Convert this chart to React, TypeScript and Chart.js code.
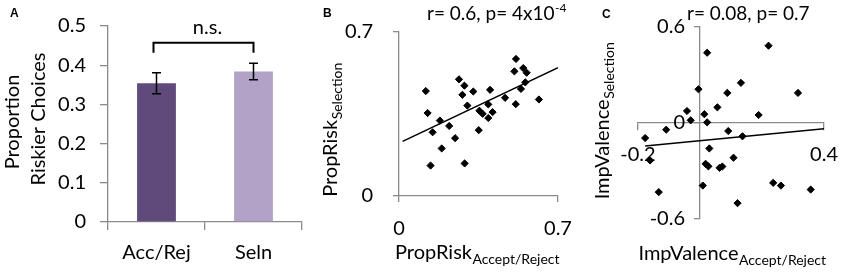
import React, { useEffect, useRef } from 'react';
import { Chart, registerables } from 'chart.js';

Chart.register(...registerables);

const W = 851;
const H = 275;
const FONT = 'Lato';
const AXIS_GRAY = '#8a8a8a';
const TEXT = '#000000';

// ---------- Panel A data ----------
const barCategories = ['Acc/Rej', 'Seln'];
const barMeans = [0.354, 0.384];
const barErrLow = [0.327, 0.363];
const barErrHigh = [0.381, 0.405];
const barColors = ['#5f4a7b', '#b3a2c8'];
const barYTicks = [0, 0.1, 0.2, 0.3, 0.4, 0.5];

// ---------- Panel B data ----------
const propRiskAccRej = [0.118, 0.126, 0.18, 0.148, 0.221, 0.188, 0.247, 0.139, 0.289, 0.264, 0.288, 0.279, 0.327, 0.301, 0.351, 0.354, 0.368, 0.393, 0.393, 0.401, 0.412, 0.467, 0.514, 0.515, 0.508, 0.537, 0.547, 0.556, 0.562, 0.616];
const propRiskSelection = [0.448, 0.354, 0.322, 0.272, 0.299, 0.203, 0.247, 0.13, 0.139, 0.498, 0.471, 0.432, 0.446, 0.386, 0.281, 0.364, 0.351, 0.333, 0.391, 0.453, 0.358, 0.419, 0.392, 0.585, 0.532, 0.457, 0.546, 0.485, 0.526, 0.412];
const propRiskFitX = [0.016, 0.7];
const propRiskFitY = [0.233, 0.548];
const propRiskTicks = [0, 0.7];

// ---------- Panel C data ----------
const impValAccRej = [0.023, 0.221, -0.005, 0.088, 0.132, 0.316, -0.042, 0.056, 0.014, -0.03, 0.023, 0.189, -0.109, -0.177, 0.091, 0.137, 0.03, -0.161, 0.018, 0.027, 0.063, 0.072, 0.108, -0.133, 0.009, 0.121, 0.236, 0.261, 0.357];
const impValSelection = [0.439, 0.483, 0.211, 0.188, 0.251, 0.188, 0.075, 0.098, 0.055, 0.017, 0.004, 0.05, -0.042, -0.094, -0.05, -0.083, -0.159, -0.234, -0.255, -0.271, -0.28, -0.272, -0.217, -0.432, -0.391, -0.501, -0.374, -0.391, -0.416];
const impValFitX = [-0.177, 0.4];
const impValFitY = [-0.144, -0.036];
const impValXTicks = [-0.2, 0.4];
const impValYTicks = [-0.6, 0, 0.6];

// ---------- helpers ----------
const fmt = (v: number) => (v === 0 ? '0' : String(Math.round(v * 10) / 10));

function setTicks(values: number[]) {
  return (scale: any) => {
    scale.ticks = values.map((v) => ({ value: v }));
  };
}

function drawSub(ctx: CanvasRenderingContext2D, main: string, sub: string, x: number, y: number, mainSize: number, subSize: number, drop: number) {
  ctx.font = `${mainSize}px ${FONT}`;
  const mw = ctx.measureText(main).width;
  ctx.font = `${subSize}px ${FONT}`;
  const sw = ctx.measureText(sub).width;
  const sx = x - (mw + sw) / 2;
  ctx.textAlign = 'left';
  ctx.textBaseline = 'alphabetic';
  ctx.fillStyle = TEXT;
  ctx.font = `${mainSize}px ${FONT}`;
  ctx.fillText(main, sx, y);
  ctx.font = `${subSize}px ${FONT}`;
  ctx.fillText(sub, sx + mw + 0.5, y + drop);
}

function drawRotated(ctx: CanvasRenderingContext2D, x: number, y: number, fn: () => void) {
  ctx.save();
  ctx.translate(x, y);
  ctx.rotate(-Math.PI / 2);
  fn();
  ctx.restore();
}

function letter(ctx: CanvasRenderingContext2D, t: string, x: number, y: number) {
  ctx.font = 'bold 12px "Liberation Sans", Arial, sans-serif';
  ctx.fillStyle = TEXT;
  ctx.textAlign = 'left';
  ctx.textBaseline = 'alphabetic';
  ctx.fillText(t, x, y);
}

const axisGrid = (tl: number) => ({
  display: true,
  drawOnChartArea: false,
  drawTicks: true,
  tickLength: tl,
  color: AXIS_GRAY,
  lineWidth: 1.3,
});
const axisBorder = { display: true, color: AXIS_GRAY, width: 1.3 };
const tickFont = { family: FONT, size: 20 };
const TITLE = 20;
const SUB = 14;

const basePlugins = { legend: { display: false }, tooltip: { enabled: false } };

// ---------- configs ----------
function configA(): any {
  const annot = {
    id: 'panelA',
    afterDraw(chart: any) {
      const ctx = chart.ctx as CanvasRenderingContext2D;
      const xs = chart.scales.x;
      const ys = chart.scales.y;
      ctx.save();
      // error bars
      ctx.strokeStyle = '#000';
      ctx.lineWidth = 1.5;
      barMeans.forEach((_, i) => {
        const x = xs.getPixelForValue(i);
        const y1 = ys.getPixelForValue(barErrLow[i]);
        const y2 = ys.getPixelForValue(barErrHigh[i]);
        ctx.beginPath();
        ctx.moveTo(x, y1);
        ctx.lineTo(x, y2);
        ctx.moveTo(x - 4.5, y1);
        ctx.lineTo(x + 4.5, y1);
        ctx.moveTo(x - 4.5, y2);
        ctx.lineTo(x + 4.5, y2);
        ctx.stroke();
      });
      // significance bracket
      const bx1 = xs.getPixelForValue(0) - 3;
      const bx2 = xs.getPixelForValue(1);
      const bTop = ys.getPixelForValue(0.457);
      const bLeg = ys.getPixelForValue(0.432);
      ctx.lineWidth = 2;
      ctx.beginPath();
      ctx.moveTo(bx1, bLeg);
      ctx.lineTo(bx1, bTop);
      ctx.lineTo(bx2, bTop);
      ctx.lineTo(bx2, bLeg);
      ctx.stroke();
      ctx.fillStyle = TEXT;
      ctx.font = `${TITLE}px ${FONT}`;
      ctx.textAlign = 'center';
      ctx.textBaseline = 'alphabetic';
      ctx.fillText('n.s.', (bx1 + bx2) / 2 + 4, bTop - 9);
      // y title
      drawRotated(ctx, 18.5, 122, () => {
        ctx.font = `${TITLE}px ${FONT}`;
        ctx.textAlign = 'center';
        ctx.fillText('Proportion', 0, 0);
      });
      drawRotated(ctx, 45, 119, () => {
        ctx.font = `${TITLE}px ${FONT}`;
        ctx.textAlign = 'center';
        ctx.fillText('Riskier Choices', 0, 0);
      });
      letter(ctx, 'A', 10, 17);
      ctx.restore();
    },
  };
  return {
    type: 'bar',
    data: {
      labels: barCategories,
      datasets: [
        {
          data: barMeans,
          backgroundColor: barColors,
          borderWidth: 0,
          barPercentage: 0.4,
          categoryPercentage: 1,
        },
      ],
    },
    options: {
      responsive: false,
      animation: false,
      devicePixelRatio: 1,
      layout: { padding: { left: 0, top: 14, right: 549, bottom: 0 } },
      plugins: basePlugins,
      scales: {
        x: {
          offset: true,
          grid: { ...axisGrid(8), offset: true },
          border: axisBorder,
          ticks: { color: TEXT, font: tickFont, padding: 11, maxRotation: 0 },
          afterFit: (s: any) => {
            s.height = 53;
          },
        },
        y: {
          min: 0,
          max: 0.5,
          grid: axisGrid(8),
          border: axisBorder,
          ticks: { color: TEXT, font: tickFont, padding: 14, callback: (v: any) => fmt(Number(v)) },
          afterBuildTicks: setTicks(barYTicks),
          afterFit: (s: any) => {
            s.width = 108;
          },
        },
      },
    },
    plugins: [annot],
  };
}

function configB(): any {
  const annot = {
    id: 'panelB',
    afterDraw(chart: any) {
      const ctx = chart.ctx as CanvasRenderingContext2D;
      ctx.save();
      letter(ctx, 'B', 323, 17);
      ctx.fillStyle = TEXT;
      ctx.textAlign = 'left';
      ctx.textBaseline = 'alphabetic';
      ctx.font = `19px ${FONT}`;
      const main = 'r= 0.6, p= 4x10';
      ctx.fillText(main, 427, 20);
      const mw = ctx.measureText(main).width;
      ctx.font = `12px ${FONT}`;
      ctx.fillText('-4', 427 + mw + 0.5, 12);
      drawRotated(ctx, 337, 130, () => drawSub(ctx, 'PropRisk', 'Selection', 0, 0, TITLE, SUB, 5));
      drawSub(ctx, 'PropRisk', 'Accept/Reject', 477, 259, TITLE, SUB, 5);
      ctx.restore();
    },
  };
  return {
    type: 'scatter',
    data: {
      datasets: [
        {
          type: 'scatter',
          data: propRiskAccRej.map((x, i) => ({ x, y: propRiskSelection[i] })),
          pointStyle: 'rectRot',
          pointRadius: 3.6,
          backgroundColor: '#000',
          borderColor: '#000',
          borderWidth: 1,
        },
        {
          type: 'line',
          data: propRiskFitX.map((x, i) => ({ x, y: propRiskFitY[i] })),
          borderColor: '#000',
          borderWidth: 1.5,
          pointRadius: 0,
          fill: false,
        },
      ],
    },
    options: {
      responsive: false,
      animation: false,
      devicePixelRatio: 1,
      layout: { padding: { left: 0, top: 26, right: 293, bottom: 0 } },
      plugins: basePlugins,
      scales: {
        x: {
          type: 'linear',
          min: 0,
          max: 0.7,
          grid: axisGrid(6),
          border: axisBorder,
          ticks: { color: TEXT, font: tickFont, padding: 15, callback: (v: any) => fmt(Number(v)) },
          afterBuildTicks: setTicks(propRiskTicks),
          afterFit: (s: any) => {
            s.height = 79;
          },
        },
        y: {
          type: 'linear',
          min: 0,
          max: 0.7,
          grid: axisGrid(6),
          border: axisBorder,
          ticks: { color: TEXT, font: tickFont, padding: 20, callback: (v: any) => fmt(Number(v)) },
          afterBuildTicks: setTicks(propRiskTicks),
          afterFit: (s: any) => {
            s.width = 399;
          },
        },
      },
    },
    plugins: [annot],
  };
}

function configC(): any {
  const annot = {
    id: 'panelC',
    afterDraw(chart: any) {
      const ctx = chart.ctx as CanvasRenderingContext2D;
      ctx.save();
      letter(ctx, 'C', 602, 18);
      ctx.fillStyle = TEXT;
      ctx.textAlign = 'left';
      ctx.textBaseline = 'alphabetic';
      ctx.font = `19px ${FONT}`;
      ctx.fillText('r= 0.08, p= 0.7', 687, 20);
      drawRotated(ctx, 609, 121, () => drawSub(ctx, 'ImpValence', 'Selection', 0, 0, TITLE, SUB, 5));
      drawSub(ctx, 'ImpValence', 'Accept/Reject', 732, 260, TITLE, SUB, 5);
      ctx.restore();
    },
  };
  return {
    type: 'scatter',
    data: {
      datasets: [
        {
          type: 'scatter',
          data: impValAccRej.map((x, i) => ({ x, y: impValSelection[i] })),
          pointStyle: 'rectRot',
          pointRadius: 3.6,
          backgroundColor: '#000',
          borderColor: '#000',
          borderWidth: 1,
        },
        {
          type: 'line',
          data: impValFitX.map((x, i) => ({ x, y: impValFitY[i] })),
          borderColor: '#000',
          borderWidth: 1.5,
          pointRadius: 0,
          fill: false,
        },
      ],
    },
    options: {
      responsive: false,
      animation: false,
      devicePixelRatio: 1,
      layout: { padding: { left: 638, top: 27, right: 21, bottom: 56 } },
      plugins: basePlugins,
      scales: {
        x: {
          type: 'linear',
          min: -0.2,
          max: 0.4,
          position: { y: 0 },
          grid: axisGrid(7),
          border: axisBorder,
          ticks: { color: TEXT, font: tickFont, padding: 13, callback: (v: any) => fmt(Number(v)) },
          afterBuildTicks: setTicks(impValXTicks),
        },
        y: {
          type: 'linear',
          min: -0.6,
          max: 0.6,
          position: { x: 0 },
          grid: axisGrid(5),
          border: axisBorder,
          ticks: { color: TEXT, font: tickFont, padding: 14, callback: (v: any) => fmt(Number(v)) + '\u2003' },
          afterBuildTicks: setTicks(impValYTicks),
        },
      },
    },
    plugins: [annot],
  };
}

export default function App() {
  const refA = useRef<HTMLCanvasElement>(null);
  const refB = useRef<HTMLCanvasElement>(null);
  const refC = useRef<HTMLCanvasElement>(null);

  useEffect(() => {
    const charts = [
      new Chart(refA.current as HTMLCanvasElement, configA()),
      new Chart(refB.current as HTMLCanvasElement, configB()),
      new Chart(refC.current as HTMLCanvasElement, configC()),
    ];
    return () => charts.forEach((c) => c.destroy());
  }, []);

  const cs: React.CSSProperties = { position: 'absolute', left: 0, top: 0, width: W, height: H };
  return (
    <div style={{ position: 'fixed', left: 0, top: 0, width: W, height: H, background: '#ffffff' }}>
      <canvas ref={refA} width={W} height={H} style={cs} />
      <canvas ref={refB} width={W} height={H} style={cs} />
      <canvas ref={refC} width={W} height={H} style={cs} />
    </div>
  );
}
